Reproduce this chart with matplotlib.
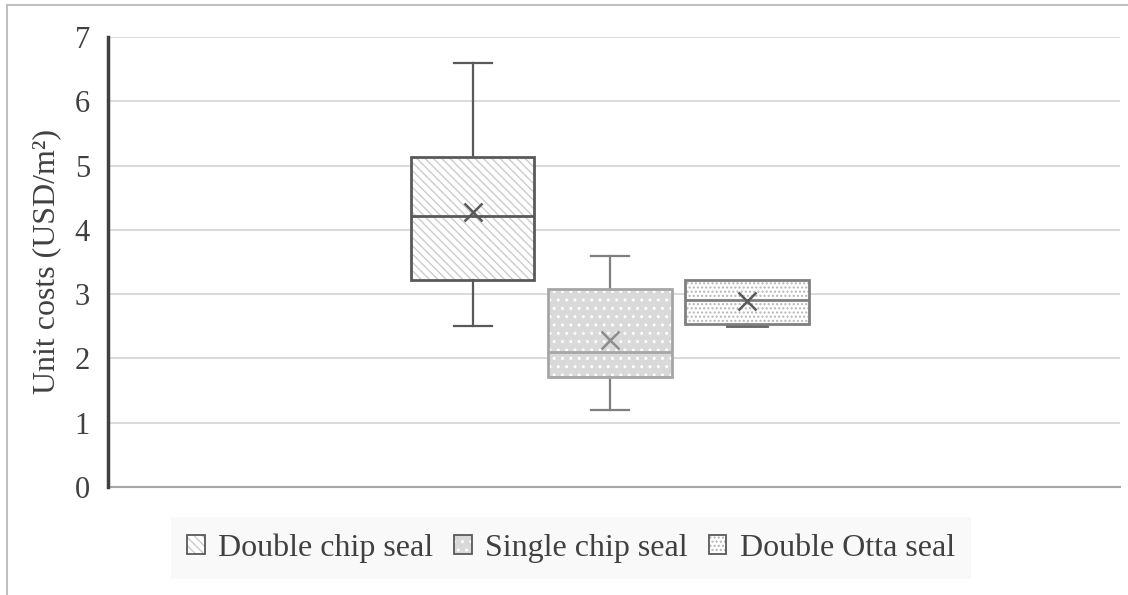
import matplotlib
matplotlib.use("Agg")
import matplotlib.pyplot as plt
from matplotlib.patches import Patch, PathPatch
from matplotlib.lines import Line2D
from matplotlib.legend_handler import HandlerTuple

plt.rcParams['font.family'] = ['Liberation Serif', 'DejaVu Serif']
plt.rcParams['hatch.linewidth'] = 1.0

# ---- data (USD/m2) ----
categories = ["Double chip seal", "Single chip seal", "Double Otta seal"]
whisker_low = [2.50, 1.20, 2.52]
q1 = [3.22, 1.71, 2.53]
medians = [4.21, 2.10, 2.91]
means = [4.28, 2.29, 2.90]
q3 = [5.14, 3.08, 3.22]
whisker_high = [6.60, 3.60, 3.22]
yticks = [0, 1, 2, 3, 4, 5, 6, 7]

# ---- styles ----
face_colors = ["white", "#d9d9d9", "white"]
hatch_colors = ["#cccccc", "white", "#b5b5b5"]
hatches = ["\\\\\\\\", "..", "...."]
edge_colors = ["#595959", "#a6a6a6", "#7f7f7f"]
whisker_colors = ["#595959", "#7f7f7f", "#666666"]
mean_colors = ["#595959", "#8c8c8c", "#595959"]
positions = [-1, 0, 1]

fig = plt.figure(figsize=(11.28, 5.95), dpi=100)
ax = fig.add_axes([108/1128, 1-487/595, (1120-108)/1128, (487-37)/595])

stats = []
for i, c in enumerate(categories):
    stats.append(dict(label=c, whislo=whisker_low[i], q1=q1[i], med=medians[i],
                      q3=q3[i], whishi=whisker_high[i], mean=means[i], fliers=[]))

res = ax.bxp(stats, positions=positions, widths=0.9, patch_artist=True,
             showmeans=False, showfliers=False, capwidths=0.28,
             boxprops=dict(linewidth=0), zorder=3)

for i, b in enumerate(res['boxes']):
    b.set_facecolor(face_colors[i])
    b.set_edgecolor(hatch_colors[i])
    b.set_hatch(hatches[i])
    b.set_linewidth(0)
    ax.add_patch(PathPatch(b.get_path(), fill=False, edgecolor=edge_colors[i],
                           linewidth=2, zorder=4))
for i in range(len(categories)):
    for w in res['whiskers'][2*i:2*i+2]:
        w.set_color(whisker_colors[i]); w.set_linewidth(1.6)
    for cp in res['caps'][2*i:2*i+2]:
        cp.set_color(whisker_colors[i]); cp.set_linewidth(1.6)
    res['medians'][i].set_color(edge_colors[i])
    res['medians'][i].set_linewidth(2)
    res['medians'][i].set_zorder(5)
# Otta lower cap drawn thicker (short whisker)
res['caps'][4].set_linewidth(3.5)
res['caps'][4].set_zorder(2)
res['caps'][5].set_visible(False)

for i, m in enumerate(means):
    ax.plot(positions[i], m, marker='x', markersize=13, markeredgewidth=1.8,
            color=mean_colors[i], zorder=6, linestyle='none')

ax.set_xlim(-3.66, 3.72)
ax.set_ylim(0, 7)
ax.set_yticks(yticks)
ax.set_yticklabels([str(t) for t in yticks])
ax.set_xticks([])
ax.tick_params(axis='y', length=0, pad=13, labelsize=22, labelcolor='#404040')
ax.yaxis.grid(True, color='#d9d9d9', linewidth=1.4, zorder=0)
ax.set_axisbelow(True)
for s in ['top', 'right']:
    ax.spines[s].set_visible(False)
ax.spines['left'].set_color('#404040')
ax.spines['left'].set_linewidth(2.5)
ax.spines['left'].set_zorder(7)
ax.spines['bottom'].set_color('#a6a6a6')
ax.spines['bottom'].set_linewidth(1.5)
ax.set_ylabel('Unit costs (USD/m²)', fontsize=23, color='#404040', labelpad=10)

handles = []
for i in range(3):
    fill = Patch(facecolor=face_colors[i], edgecolor=hatch_colors[i], hatch=hatches[i],
                 linewidth=0)
    outline = Patch(facecolor='none', edgecolor='#595959', linewidth=1.3)
    handles.append((fill, outline))
leg = fig.legend(handles, categories, loc='center', bbox_to_anchor=(571/1128, 1-548/595),
                 ncol=3, fontsize=23, frameon=True, fancybox=False,
                 handler_map={tuple: HandlerTuple(ndivide=1, pad=0)},
                 handlelength=0.55, handleheight=0.55, handletextpad=0.42,
                 columnspacing=0.65, borderpad=0.5)
leg.get_frame().set_facecolor('#f8f8f8')
leg.get_frame().set_edgecolor('none')
for t in leg.get_texts():
    t.set_color('#404040')

# outer border (top & left)
fig.add_artist(Line2D([7/1128, 7/1128], [0, 1-5/595], color='#bfbfbf', linewidth=1.5,
                      transform=fig.transFigure))
fig.add_artist(Line2D([7/1128, 1], [1-5/595, 1-5/595], color='#bfbfbf', linewidth=1.5,
                      transform=fig.transFigure))

fig.savefig('out.png', dpi=100)
